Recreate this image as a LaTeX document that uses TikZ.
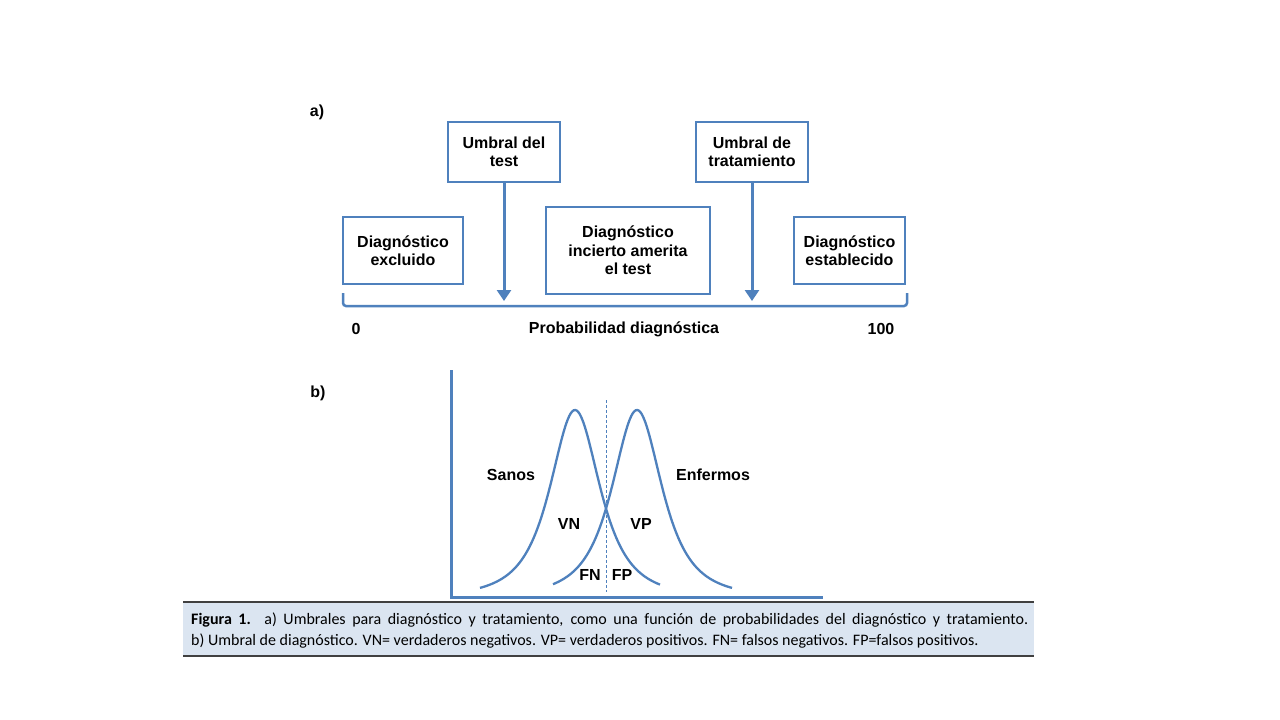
\documentclass[tikz,border=0pt]{standalone}
\usepackage{fontspec}
\setmainfont{Liberation Sans}
\newfontfamily\capfont{Carlito}
\usetikzlibrary{arrows.meta}
\definecolor{cblue}{HTML}{4F81BD}
\definecolor{capfill}{HTML}{DBE5F1}
\definecolor{capline}{HTML}{404040}
\newcommand{\diagfont}{\fontsize{16}{18.5}\selectfont\bfseries}
\tikzset{
  box/.style={draw=cblue, line width=2pt, fill=white, align=center, font=\diagfont, inner sep=0pt},
  lbl/.style={font=\diagfont, inner sep=0pt},
  arr/.style={draw=cblue, line width=3pt, -{Triangle[width=14pt,length=11pt]}},
  brk/.style={draw=cblue, line width=2.5pt, rounded corners=3pt},
  axisline/.style={draw=cblue, line width=3pt},
  curve/.style={draw=cblue, line width=2.3pt},
  thr/.style={draw=cblue, line width=1pt, dash pattern=on 3pt off 2pt},
  capnode/.style={font=\capfont\fontsize{16}{20}\selectfont, inner sep=0pt, anchor=base west}
}
\begin{document}
\begin{tikzpicture}[x=1pt,y=-1pt]
\useasboundingbox[fill=white] (0,0) rectangle (1280,720);
% part a
\node[lbl] (la) at (317,112) {a)};
\node[box, minimum width=112pt, minimum height=60pt] (ut) at (504,152) {Umbral del\\test};
\node[box, minimum width=112pt, minimum height=60pt] (ute) at (752,152) {Umbral de\\tratamiento};
\node[box, minimum width=120pt, minimum height=67pt] (de) at (403,250.5) {Diagnóstico\\excluido};
\node[box, minimum width=164pt, minimum height=87pt] (di) at (628,250.5) {Diagnóstico\\incierto amerita\\el test};
\node[box, minimum width=111pt, minimum height=67pt] (des) at (849.5,250.5) {Diagnóstico\\establecido};
\coordinate (t1) at (504,301);
\coordinate (t2) at (752,301);
\draw[arr] (ut.south) -- (t1);
\draw[arr] (ute.south) -- (t2);
\draw[brk] (343,293) -- (343,306) -- (907,306) -- (907,293);
\node[lbl] (z0) at (356,329) {0};
\node[lbl] (pd) at (624,329) {Probabilidad diagnóstica};
\node[lbl] (z100) at (881,329) {100};
% part b
\node[lbl] (lb) at (318,393) {b)};
\draw[axisline] (451,370) -- (451,597) -- (823,597);
\draw[thr] (606,400) -- (606,592);
\draw[curve] plot[domain=480:660, samples=120, smooth] (\x, {598-188/((1+(\x-575)^2/1500)^1.5)});
\draw[curve] plot[domain=553:732, samples=120, smooth] (\x, {598-188/((1+(\x-637)^2/1500)^1.5)});
\node[lbl] (sanos) at (511,475) {Sanos};
\node[lbl] (enf) at (713,475) {Enfermos};
\node[lbl] (vn) at (569,524) {VN};
\node[lbl] (vp) at (641,524) {VP};
\node[lbl] (fn) at (590,575) {FN};
\node[lbl] (fp) at (622,575) {FP};
% caption
\fill[capfill] (183,602) rectangle (1034,656);
\draw[capline, line width=2pt] (183,602) -- (1034,602);
\draw[capline, line width=2pt] (183,656) -- (1034,656);
\node[capnode] (cap1) at (191,624) {\hbox to 837pt{\textbf{Figura 1.} a) Umbrales para diagnóstico y tratamiento, como una función de probabilidades del diagnóstico y tratamiento.}};
\node[capnode] (cap2) at (191,645) {b) Umbral de diagnóstico. VN= verdaderos negativos. VP= verdaderos positivos. FN= falsos negativos. FP=falsos positivos.};
\end{tikzpicture}
\end{document}
